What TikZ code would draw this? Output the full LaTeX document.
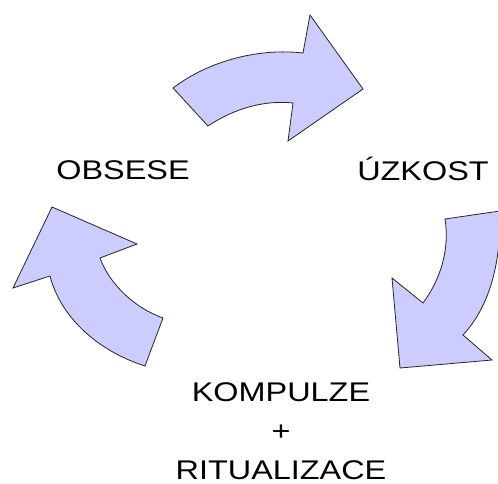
\documentclass[tikz,border=0pt]{standalone}
\usepackage{fontspec}
\newfontfamily\lblfont[FakeStretch=1.2]{Liberation Sans}
\definecolor{lavender}{RGB}{204,204,255}
\tikzset{
  arrowshape/.style={fill=lavender, draw=black!85, line width=0.8pt, line join=miter},
  lbl/.style={inner sep=0pt, font=\lblfont\fontsize{27}{39}\selectfont}
}
\begin{document}
\begin{tikzpicture}[x=1pt, y=-1pt]
  \useasboundingbox (0, 0) rectangle (498, 484);
  \clip (0, 0) rectangle (498, 484);

  % top arrow
  \draw[
    arrowshape
  ] (173, 88) -- (208, 126)
    .. controls (235, 108) and (265, 100) .. (293, 103)
    -- (288, 141) -- (363, 89) -- (310, 15) -- (303, 53)
    .. controls (260, 48) and (210, 60) .. (173, 88) -- cycle;

  % right arrow
  \draw[
    arrowshape
  ] (445, 219) -- (500, 211)
    .. controls (501, 260) and (491, 305) .. (463, 335)
    -- (492, 360) -- (400, 368) -- (392, 278) -- (423, 303)
    .. controls (440, 280) and (450, 250) .. (445, 219) -- cycle;

  % left arrow
  \draw[
    arrowshape
  ] (52, 207) -- (137, 244) -- (100, 258)
    .. controls (110, 285) and (135, 308) .. (163, 318)
    -- (145, 366)
    .. controls (95, 350) and (60, 315) .. (50, 276)
    -- (13, 288) -- cycle;

  \draw node[lbl, anchor=base] (obsese) at (123, 179) {OBSESE};
  \draw node[lbl, anchor=base] (uzkost) at (423, 180) {ÚZKOST};
  \draw node[lbl, anchor=north, align=center] (kompulze) at (281, 382)
    {KOMPULZE\\+\\RITUALIZACE};

\end{tikzpicture}
\end{document}
